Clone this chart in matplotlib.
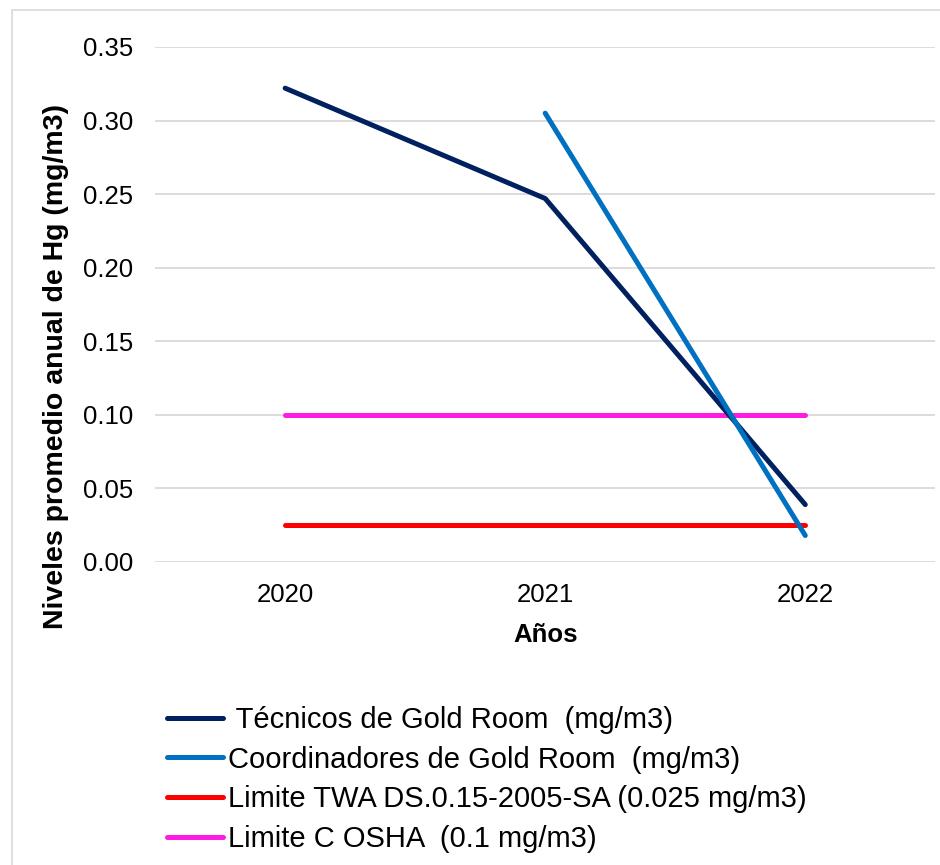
import matplotlib.pyplot as plt
from matplotlib.patches import Rectangle

plt.rcParams['font.family'] = ['Liberation Sans', 'DejaVu Sans']

years = ['2020', '2021', '2022']
tecnicos = [0.322, 0.247, 0.039]
coord_years = [1, 2]
coordinadores = [0.305, 0.018]
limite_twa = [0.025, 0.025, 0.025]
limite_osha = [0.1, 0.1, 0.1]

labels = [' Técnicos de Gold Room  (mg/m3)',
          'Coordinadores de Gold Room  (mg/m3)',
          'Limite TWA DS.0.15-2005-SA (0.025 mg/m3)',
          'Limite C OSHA  (0.1 mg/m3)']
colors = ['#002060', '#0070C0', '#FF0000', '#FF1CE0']

fig = plt.figure(figsize=(9.4, 8.65), dpi=100)
ax = fig.add_axes([0.165, 0.3503, 0.83, 0.5954])

x = range(len(years))
lw = 3.6
l1, = ax.plot(x, tecnicos, color=colors[0], lw=lw, solid_capstyle='round', zorder=3)
l2, = ax.plot(coord_years, coordinadores, color=colors[1], lw=lw, solid_capstyle='round', zorder=4)
l3, = ax.plot(x, limite_twa, color=colors[2], lw=lw, solid_capstyle='round', zorder=2)
l4, = ax.plot(x, limite_osha, color=colors[3], lw=lw, solid_capstyle='round', zorder=2)

ax.set_xlim(-0.5, 2.5)
ax.set_ylim(0, 0.35)
ax.set_xticks(list(x))
ax.set_xticklabels(years)
ax.set_yticks([i * 0.05 for i in range(8)])
ax.set_yticklabels([f'{i * 0.05:.2f}' for i in range(8)])
ax.tick_params(length=0, labelsize=18.5)
ax.tick_params(axis='y', pad=16)
ax.tick_params(axis='x', pad=15)
ax.grid(axis='y', color='#d9d9d9', lw=1.3)
ax.set_axisbelow(True)
for s in ax.spines.values():
    s.set_visible(False)

ax.set_xlabel('Años', fontsize=18.5, fontweight='bold')
ax.xaxis.set_label_coords(0.5, -0.118)
ax.set_ylabel('Niveles promedio anual de Hg (mg/m3)', fontsize=20.5,
              fontweight='bold')
ax.yaxis.set_label_coords(-0.110, 0.38)

fig.legend([l1, l2, l3, l4], labels, loc='upper left',
           bbox_to_anchor=(0.178, 0.184), frameon=False, fontsize=21,
           handlelength=1.9, handletextpad=0.17, labelspacing=0.40,
           borderaxespad=0, borderpad=0)

# light border around the chart area
fig.patches.append(Rectangle((12 / 940, -0.05), 1.0, 1 - 10 / 865 + 0.05,
                             transform=fig.transFigure, fill=False,
                             edgecolor='#d9d9d9', lw=1.2))

fig.savefig('out.png', dpi=100)
